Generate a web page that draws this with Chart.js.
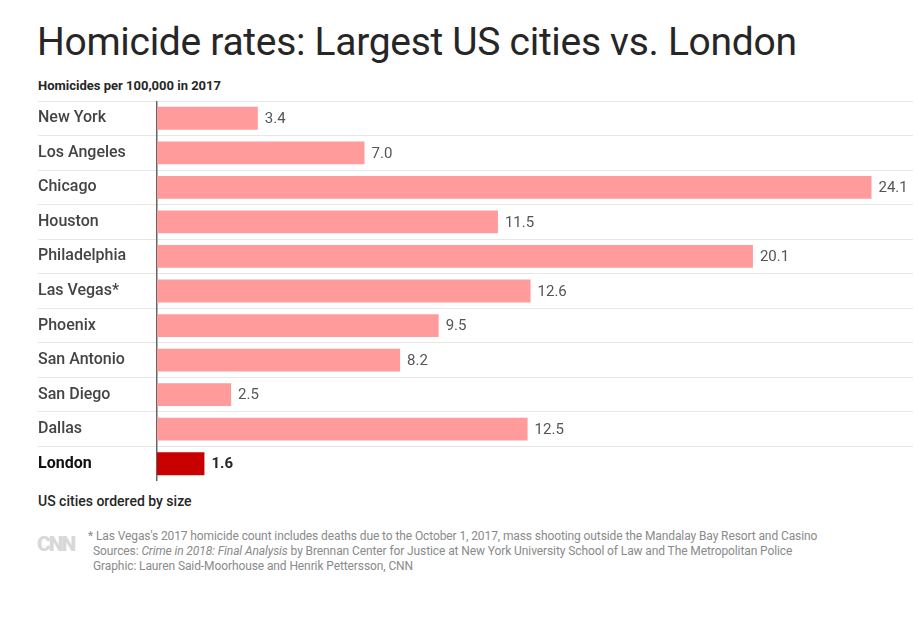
<!DOCTYPE html>
<html>
<head>
<meta charset="utf-8">
<script src="https://cdn.jsdelivr.net/npm/chart.js@4"></script>
<style>
body { margin: 0; background: #fff; font-family: Roboto, "Noto Sans", sans-serif; width: 919px; height: 627px; position: relative; overflow: hidden; }
#title { position: absolute; left: 37px; top: 19px; font-size: 39px; color: #262626; font-weight: 400; letter-spacing: -0.3px; }
#sub { position: absolute; left: 38px; top: 78px; font-size: 13px; font-weight: 700; color: #262626; }
#wrap { position: absolute; left: 38px; top: 101px; width: 875px; height: 380px; }
#order { position: absolute; left: 38px; top: 493px; font-size: 14px; font-weight: 500; color: #262626; }
#logo { position: absolute; left: 37px; top: 532px; font-size: 21px; font-weight: 900; color: #d8d8d8; letter-spacing: -2px; }
#notes { position: absolute; left: 93px; top: 529px; font-size: 12px; line-height: 15px; color: #8a8a8a; letter-spacing: -0.1px; }
</style>
</head>
<body>
<div id="title">Homicide rates: Largest US cities vs. London</div>
<div id="sub">Homicides per 100,000 in 2017</div>
<div id="wrap"><canvas id="chart"></canvas></div>
<div id="order">US cities ordered by size</div>
<div id="logo">CNN</div>
<div id="notes">
<div style="margin-left:-5px">* Las Vegas's 2017 homicide count includes deaths due to the October 1, 2017, mass shooting outside the Mandalay Bay Resort and Casino</div>
<div>Sources: <i>Crime in 2018: Final Analysis</i> by Brennan Center for Justice at New York University School of Law and The Metropolitan Police</div>
<div>Graphic: Lauren Said-Moorhouse and Henrik Pettersson, CNN</div>
</div>
<script>
const cities = ['New York', 'Los Angeles', 'Chicago', 'Houston', 'Philadelphia', 'Las Vegas*', 'Phoenix', 'San Antonio', 'San Diego', 'Dallas', 'London'];
const rates = [3.4, 7.0, 24.1, 11.5, 20.1, 12.6, 9.5, 8.2, 2.5, 12.5, 1.6];
const barColors = cities.map(c => c === 'London' ? '#c80000' : '#ff9b9b');

const valueLabels = {
    id: 'valueLabels',
    afterDatasetsDraw(chart) {
        const ctx = chart.ctx;
        const meta = chart.getDatasetMeta(0);
        ctx.save();
        ctx.textBaseline = 'middle';
        meta.data.forEach((bar, i) => {
            const london = cities[i] === 'London';
            ctx.font = (london ? '700 ' : '400 ') + '15px Roboto, sans-serif';
            ctx.fillStyle = london ? '#262626' : '#555';
            ctx.fillText(rates[i].toFixed(1), bar.x + 7, bar.y + 1);
        });
        ctx.restore();
    }
};

new Chart(document.getElementById('chart'), {
    type: 'bar',
    data: {
        labels: cities,
        datasets: [{ data: rates, backgroundColor: barColors, barPercentage: 0.66, categoryPercentage: 1 }]
    },
    options: {
        indexAxis: 'y',
        responsive: true,
        maintainAspectRatio: false,
        animation: false,
        layout: { padding: 0 },
        plugins: { legend: { display: false }, tooltip: { enabled: false } },
        scales: {
            x: { min: 0, max: 25.5, display: false },
            y: {
                afterFit: s => { s.width = 119; },
                border: { color: '#666', width: 1.5 },
                grid: { offset: true, color: '#e6e6e6', tickLength: 119, drawTicks: true },
                ticks: {
                    crossAlign: 'far',
                    padding: -119,
                    color: ctx => ctx.index === 10 ? '#111' : '#444',
                    font: ctx => ({ family: 'Roboto, sans-serif', size: 16, weight: ctx.index === 10 ? '700' : '500' })
                }
            }
        }
    },
    plugins: [valueLabels]
});
</script>
</body>
</html>
